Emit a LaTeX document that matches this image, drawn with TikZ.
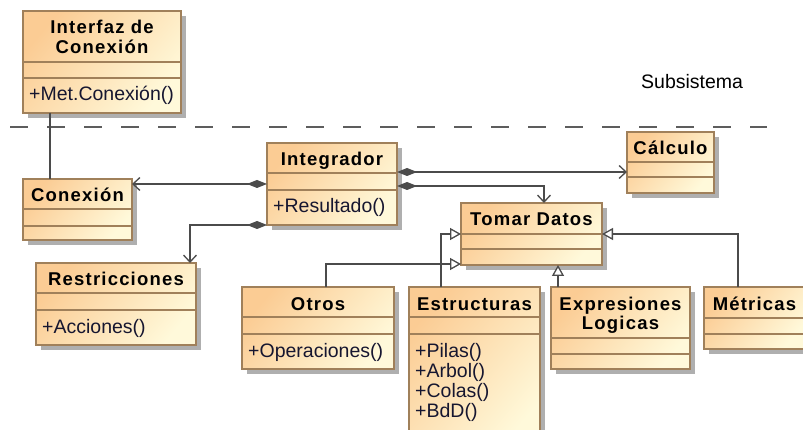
\documentclass[tikz,border=0pt]{standalone}
\usepackage{fontspec}
\setmainfont{Liberation Sans}
\newfontfamily\ttlfont{Liberation Sans}[LetterSpace=6.5]
\usetikzlibrary{arrows.meta}
\definecolor{brd}{RGB}{160,128,90}
\definecolor{shd}{RGB}{175,175,175}
\definecolor{topc}{RGB}{251,204,148}
\definecolor{botc}{RGB}{255,249,218}
\definecolor{lnc}{RGB}{75,75,75}
\definecolor{optc}{RGB}{22,22,48}
\tikzset{
  classbox/.style={draw=brd, line width=1.2pt, inner sep=0pt, outer sep=0pt,
    top color=topc, bottom color=botc, shading angle=50},
  sepline/.style={draw=brd, line width=1.2pt},
  titletext/.style={font=\ttlfont\bfseries\fontsize{18.5}{20}\selectfont, inner sep=0pt, anchor=base},
  optext/.style={font=\fontsize{19.5}{20}\selectfont, text=optc, inner sep=0pt, anchor=base west},
  conn/.style={draw=lnc, line width=1.3pt},
  comp/.style={conn, {Diamond[length=20pt,width=8pt,fill=lnc]}-{Straight Barb[length=7pt,width=13pt]}},
  gen/.style={conn, -{Triangle[length=11pt,width=12pt,fill=white]}},
  dashline/.style={draw=lnc!90, line width=1.3pt, dash pattern=on 18pt off 19pt}
}
% #1 name, #2 x, #3 y, #4 w, #5 h, #6 sep1, #7 sep2, #8 title lines, #9 op lines
\newcommand\umlbox[9]{%
  \fill[shd] (#2+5,#3+5) rectangle ++(#4,#5);
  \node[classbox, minimum width=#4pt, minimum height=#5pt, anchor=north west] (#1) at (#2,#3) {};
  \draw[sepline] ([yshift=-#6pt]#1.north west) -- ([yshift=-#6pt]#1.north east);
  \draw[sepline] ([yshift=-#7pt]#1.north west) -- ([yshift=-#7pt]#1.north east);
  \foreach \t [count=\i] in {#8} {
    \node[titletext] at ([yshift={-(23+20*(\i-1))*1pt}]#1.north) {\t};
  }
  \foreach \t [count=\i] in {#9} {
    \node[optext] at ([xshift=6pt,yshift={-(#7+23+20*(\i-1))*1pt}]#1.north west) {\t};
  }
}
\begin{document}
\begin{tikzpicture}[x=1pt,y=-1pt]
\clip (0,0) rectangle (803,430);
\fill[white] (0,0) rectangle (803,430);

\draw[dashline] (10,127) -- (767,127);
\node[font=\fontsize{19.5}{20}\selectfont, inner sep=0pt, anchor=base west] (sub) at (641,89) {Subsistema};

\umlbox{iface}{23}{11}{158}{102}{51}{67}{Interfaz de,Conexión}{+Met.Conexión()}
\umlbox{conex}{23}{179}{109}{61}{30}{47}{Conexión}{}
\umlbox{integ}{267}{143}{130}{82}{30}{47}{Integrador}{+Resultado()}
\umlbox{restr}{36}{263}{160}{82}{30}{47}{Restricciones}{+Acciones()}
\umlbox{calc}{627}{132}{87}{61}{30}{45}{Cálculo}{}
\umlbox{tomar}{461}{203}{141}{62}{31}{46}{Tomar Datos}{}
\umlbox{otros}{242}{287}{152}{82}{30}{47}{Otros}{+Operaciones()}
\umlbox{estr}{409}{287}{131}{160}{30}{47}{Estructuras}{+Pilas(),+Arbol(),+Colas(),+BdD()}
\umlbox{expr}{551}{287}{139}{82}{51}{67}{Expresiones,Logicas}{}
\umlbox{metr}{704}{287}{101}{62}{31}{47}{Métricas}{}

% connectors
\draw[conn] ([xshift=27pt]iface.south west) -- ([xshift=27pt]conex.north west);
\coordinate (ia) at ([yshift=-41pt]integ.north west);
\draw[comp] (ia) -- (ia -| conex.east);
\draw[comp] (integ.south west) -| ([xshift=154pt]restr.north west);
\coordinate (ic) at ([yshift=-29pt]integ.north east);
\draw[comp] (ic) -- (ic -| calc.west);
\coordinate (it) at ([yshift=-43pt]integ.north east);
\draw[comp] (it) -| ([xshift=83pt]tomar.north west);
\draw[gen] ([xshift=32pt]estr.north west) |- ([yshift=-31pt]tomar.north west);
\draw[gen] ([xshift=84pt]otros.north west) |- ([yshift=1pt]tomar.south west);
\coordinate (ex) at ([xshift=7pt]expr.north west);
\draw[gen] (ex) -- (ex |- tomar.south);
\draw[gen] ([xshift=34pt]metr.north west) |- ([yshift=-31pt]tomar.north east);
\end{tikzpicture}
\end{document}
